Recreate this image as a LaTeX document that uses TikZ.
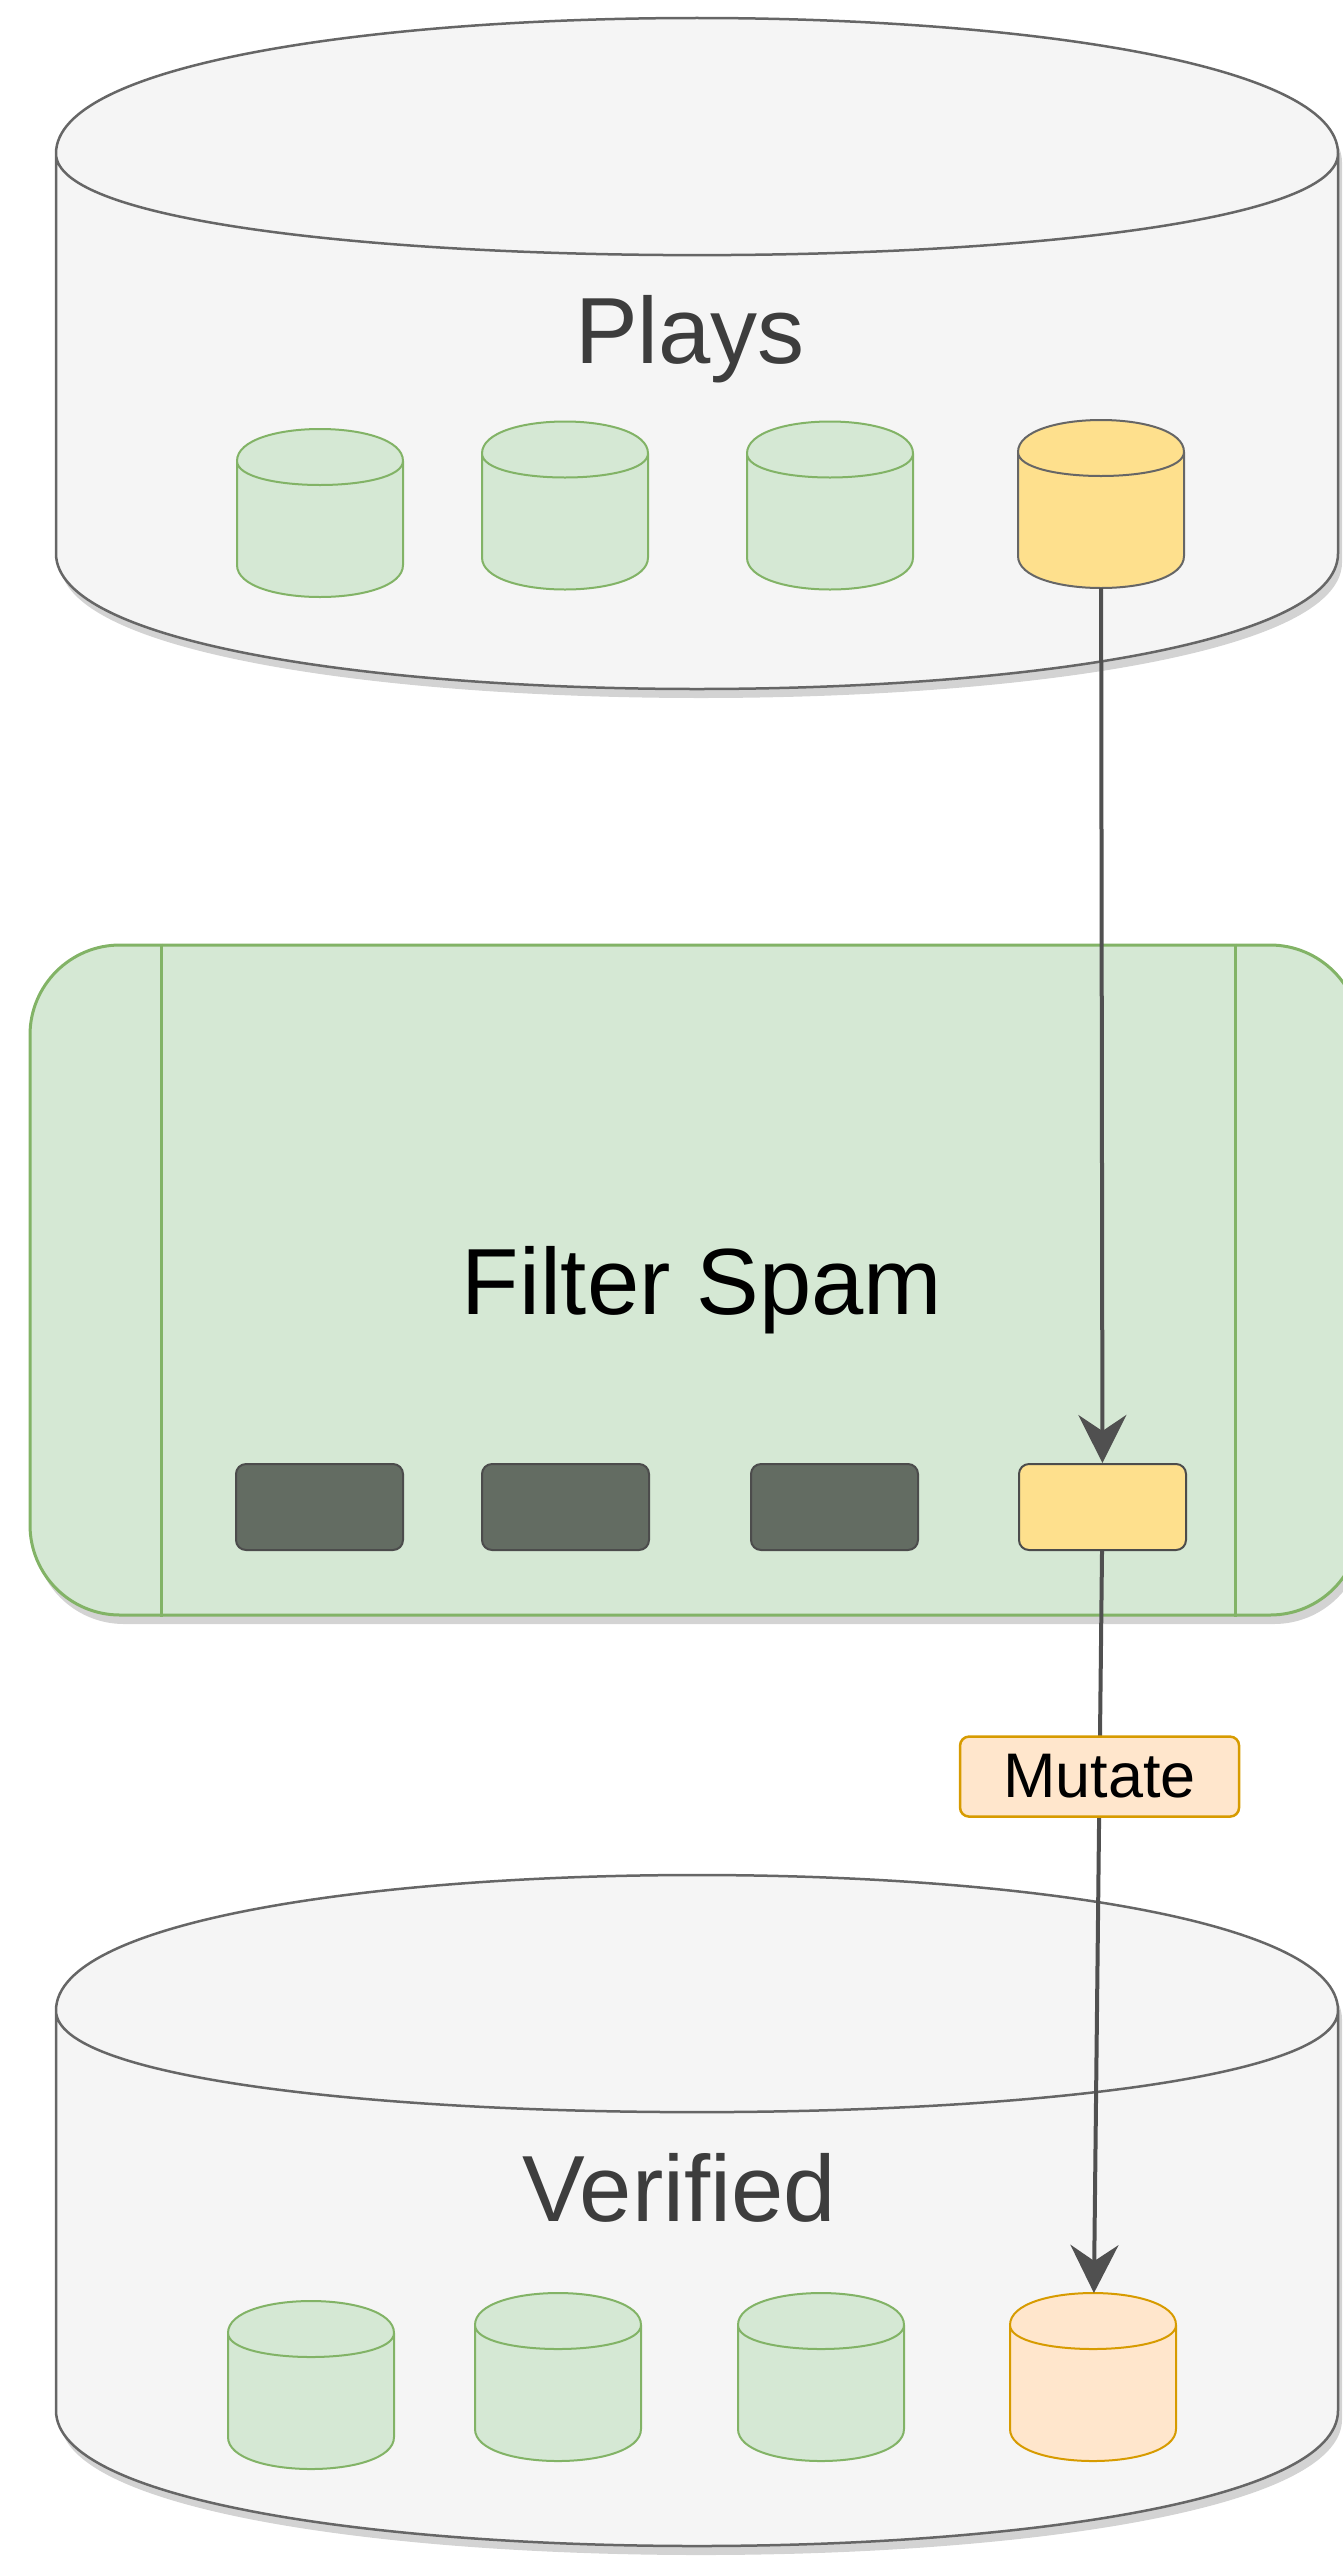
\documentclass[tikz,border=0pt]{standalone}
\usepackage{fontspec}
\setmainfont{Liberation Sans}
\usetikzlibrary{arrows.meta, shadows, positioning}

\definecolor{silo}{HTML}{F5F5F5}
\definecolor{siloline}{HTML}{666666}
\definecolor{leaf}{HTML}{D5E8D4}
\definecolor{leafline}{HTML}{82B366}
\definecolor{gold}{HTML}{FEE08D}
\definecolor{peach}{HTML}{FFE6CC}
\definecolor{peachline}{HTML}{D79B00}
\definecolor{slate}{HTML}{636C62}
\definecolor{ink}{HTML}{3D3D3D}
\definecolor{wire}{HTML}{505050}

% can outline on a named box: name, cap depth, style
\newcommand{\can}[3]{%
    \path[#3] ([yshift=-#2]#1.north west)
        .. controls ([yshift=#2/3]#1.north west) and ([yshift=#2/3]#1.north east) .. ([yshift=-#2]#1.north east)
        -- ([yshift=#2]#1.south east)
        .. controls ([yshift=-#2/3]#1.south east) and ([yshift=-#2/3]#1.south west) .. ([yshift=#2]#1.south west) -- cycle
        ([yshift=-#2]#1.north east)
        .. controls ([yshift=-2*#2]#1.north east) and ([yshift=-2*#2]#1.north west) .. ([yshift=-#2]#1.north west);}

\begin{document}
\begin{tikzpicture}[x=1pt, y=-1pt,
    slot/.style = {inner sep=0pt, outer sep=0pt},
    store/.style = {slot, minimum width=1282pt, minimum height=671pt},
    storeshape/.style = {draw=siloline, fill=silo, line width=2.5pt, drop shadow={shadow xshift=4pt, shadow yshift=-9pt, opacity=0.35}},
    part/.style = {slot, minimum width=166pt, minimum height=168pt},
    green/.style = {draw=leafline, fill=leaf, line width=2pt},
    proc/.style = {draw=leafline, fill=leaf, line width=3pt, rounded corners=90pt, minimum width=1330pt, minimum height=670pt, drop shadow={shadow xshift=4pt, shadow yshift=-9pt, opacity=0.35}},
    task/.style = {draw=black!70, fill=slate, line width=2pt, rounded corners=10pt, minimum width=167pt, minimum height=86pt},
    tag/.style = {draw=peachline, fill=peach, line width=2.5pt, rounded corners=9pt, minimum width=279pt, minimum height=80pt, font=\fontsize{63}{75}\selectfont},
    title/.style = {anchor=base, text=ink, font=\fontsize{94}{112}\selectfont},
    flow/.style = {draw=wire, line width=4pt, -{Stealth[length=48pt, width=48pt, inset=16pt]}}]
    \path[use as bounding box, clip] (0,0) rectangle (1343,2556);

    % plays
    \node[store] (plays) at (697, 353.5) {};
    \can{plays}{135.5pt}{storeshape}
    \node[title] (playsText) at (690, 363) {Plays};
    \foreach \n/\x/\y in {1/320/513, 2/565/505.5, 3/830/505.5} {
        \node[part] (p\n) at (\x, \y) {};
        \can{p\n}{32pt}{green}
    }
    \node[part] (p4) at (1101, 504) {};
    \can{p4}{32pt}{draw=siloline, fill=gold, line width=2pt}

    % filter
    \node[proc] (filter) at (695, 1280) {};
    \draw[leafline, line width=3pt] ([xshift=133pt]filter.north west) -- ([xshift=133pt]filter.south west);
    \draw[leafline, line width=3pt] ([xshift=-126pt]filter.north east) -- ([xshift=-126pt]filter.south east);
    \node[title, text=black] (filterText) at (702, 1314) {Filter Spam};
    \foreach \n/\x in {1/319.5, 2/565.5, 3/834.5}
        \node[task] (r\n) at (\x, 1507) {};
    \node[task, fill=gold] (r4) at (1102.5, 1507) {};

    % verified
    \node[store] (verified) at (697, 2210.5) {};
    \can{verified}{135.5pt}{storeshape}
    \node[title] (verifiedText) at (679, 2221) {Verified};
    \foreach \n/\x/\y in {1/311/2385, 2/558/2377, 3/821/2377} {
        \node[part] (v\n) at (\x, \y) {};
        \can{v\n}{32pt}{green}
    }
    \node[part] (v4) at (1093, 2377) {};
    \can{v4}{32pt}{draw=peachline, fill=peach, line width=2pt}

    \draw[flow] (p4) -- (r4);
    \draw[flow] (r4) -- node[tag, pos=0.304] (mutate) {Mutate} (v4);
\end{tikzpicture}
\end{document}
